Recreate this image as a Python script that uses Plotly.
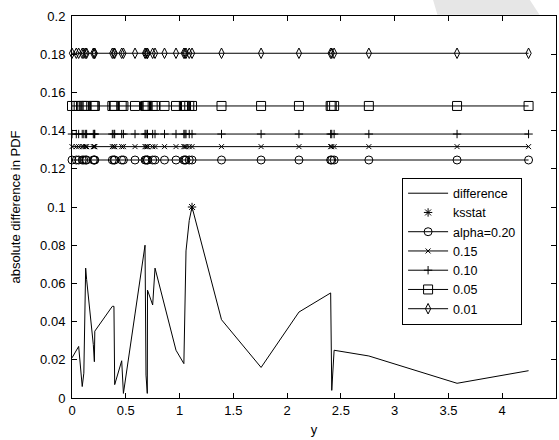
import plotly.graph_objects as go

# Sorted sample values and the absolute difference between empirical and fitted PDF at each
sample_y = [0.000, 0.040, 0.062, 0.095, 0.110, 0.127, 0.136, 0.198, 0.208, 0.212,
            0.375, 0.390, 0.397, 0.462, 0.478, 0.586, 0.679, 0.688, 0.700, 0.702,
            0.750, 0.772, 0.860, 0.967, 1.040, 1.050, 1.060, 1.090, 1.116, 1.390,
            1.758, 2.110, 2.405, 2.415, 2.437, 2.760, 3.580, 4.245]
abs_diff = [0.0210, 0.0250, 0.0270, 0.0060, 0.0130, 0.0680, 0.0620, 0.0280, 0.0190, 0.0350,
            0.0480, 0.0480, 0.0070, 0.0195, 0.0024, 0.0440, 0.0800, 0.0120, 0.0024, 0.0565,
            0.0487, 0.0680, 0.0480, 0.0250, 0.0180, 0.0440, 0.0770, 0.0930, 0.1000, 0.0410,
            0.0160, 0.0450, 0.0550, 0.0040, 0.0250, 0.0220, 0.0077, 0.0143]

# Critical values of the test statistic for each significance level
alpha_labels = ["alpha=0.20", "0.15", "0.10", "0.05", "0.01"]
crit_values = [0.1246, 0.1316, 0.1382, 0.1529, 0.1805]
alpha_symbols = ["circle-open", "x-thin-open", "cross-thin-open", "square-open", "diamond-tall-open"]
alpha_sizes = [8, 5, 6, 9, 7.5]

x_ticks = [0, 0.5, 1, 1.5, 2, 2.5, 3, 3.5, 4, 4.5]
x_ticklabels = ["0", "0.5", "1", "1.5", "2", "2.5", "3", "3.5", "4", "4.5"]
y_ticks = [0, 0.02, 0.04, 0.06, 0.08, 0.1, 0.12, 0.14, 0.16, 0.18, 0.2]
y_ticklabels = ["0", "0.02", "0.04", "0.06", "0.08", "0.1", "0.12", "0.14", "0.16", "0.18", "0.2"]

FONT = "Liberation Sans, Arial, sans-serif"

fig = go.Figure()

fig.add_trace(go.Scatter(
    x=sample_y, y=abs_diff, mode="lines", name="difference",
    line=dict(color="black", width=1),
))

# KS statistic = largest absolute difference
k = max(range(len(abs_diff)), key=lambda i: abs_diff[i])
fig.add_trace(go.Scatter(
    x=[sample_y[k]], y=[abs_diff[k]], mode="markers", name="ksstat",
    marker=dict(symbol="asterisk-open", size=7, color="black", line=dict(color="black", width=1)),
    cliponaxis=False,
))

for label, cv, sym, sz in zip(alpha_labels, crit_values, alpha_symbols, alpha_sizes):
    fig.add_trace(go.Scatter(
        x=sample_y, y=[cv] * len(sample_y), mode="lines+markers", name=label,
        line=dict(color="black", width=1),
        marker=dict(symbol=sym, size=sz, color="black", line=dict(color="#222", width=1)),
        cliponaxis=False,
    ))

axis_common = dict(
    showline=True, linecolor="black", linewidth=1, mirror="ticks",
    ticks="inside", ticklen=5, tickcolor="black", tickwidth=1,
    showgrid=False, zeroline=False,
    tickfont=dict(family=FONT, size=13, color="black"),
)

fig.update_layout(
    width=559, height=440,
    margin=dict(l=72, r=2.5, t=16, b=42),
    paper_bgcolor="white", plot_bgcolor="white",
    font=dict(family=FONT, size=13, color="black"),
    showlegend=True,
    legend=dict(
        x=0.682, y=0.577, xanchor="left", yanchor="top",
        bordercolor="black", borderwidth=1, bgcolor="white",
        font=dict(family=FONT, size=12.5, color="black"),
        itemwidth=40, tracegroupgap=0,
    ),
    xaxis=dict(range=[0, 4.5], tickvals=x_ticks, ticktext=x_ticklabels,
               title=dict(text="y", standoff=8, font=dict(family=FONT, size=13)),
               **axis_common),
    yaxis=dict(range=[0, 0.2], tickvals=y_ticks, ticktext=y_ticklabels,
               ticklabelstandoff=3,
               title=dict(text="absolute difference in PDF", standoff=16, font=dict(family=FONT, size=13)),
               **axis_common),
    shapes=[dict(
        type="path", xref="paper", yref="paper", layer="above",
        path="M 0.746 1.042 L 0.946 1.042 L 0.966 1.003 L 0.755 1.003 Z",
        fillcolor="#e6e6e6", line=dict(width=0),
    )],
)

fig.write_html("out.html")
